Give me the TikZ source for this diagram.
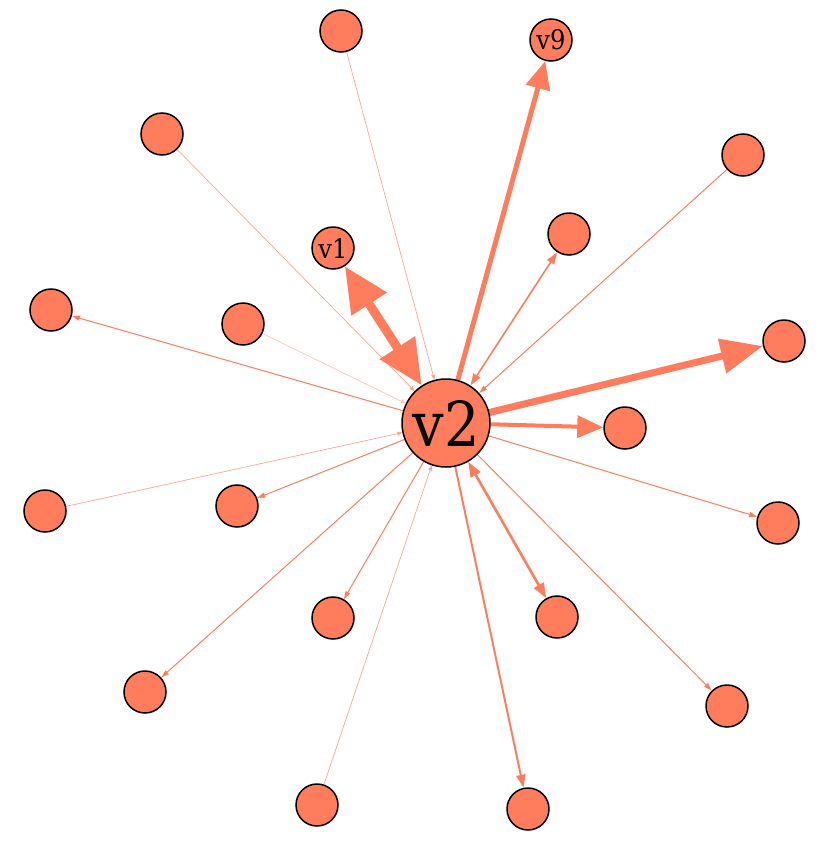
\documentclass[tikz,border=0pt]{standalone}
\usepackage{fontspec}
\usetikzlibrary{arrows.meta}
\newfontfamily\labfont{DejaVu Serif Condensed}
\definecolor{coral}{RGB}{255,125,92}
\pgfdeclarelayer{bg}
\pgfsetlayers{bg,main}
\begin{document}
\begin{tikzpicture}[x=1pt,y=-1pt,
  vtx/.style={circle,draw=black,line width=1.5pt,fill=coral,minimum size=42pt,inner sep=0pt},
  hub/.style={circle,draw=black,line width=1.5pt,fill=coral,minimum size=88pt,inner sep=0pt,font=\labfont\fontsize{62}{62}\selectfont},
  lab/.style={font=\labfont\fontsize{27}{27}\selectfont},
  faint/.style={draw=coral!70,line width=0.7pt,-{Triangle[length=5pt,width=4pt]}},
  thin/.style={draw=coral,line width=1pt,-{Triangle[length=8pt,width=5pt]}},
  med/.style={draw=coral,line width=2pt,{Triangle[length=12pt,width=8pt]}-{Triangle[length=12pt,width=8pt]}},
]
\useasboundingbox (0,0) rectangle (830,849);
\node[hub] (v2) at (446,423) {v2};
\node[vtx] (n1) at (341,31) {};
\node[vtx,lab] (v9) at (551,40) {v9};
\node[vtx] (n3) at (162,134) {};
\node[vtx] (n4) at (743,155) {};
\node[vtx] (n5) at (569,234) {};
\node[vtx,lab] (v1) at (333,248) {v1};
\node[vtx] (n7) at (51,310) {};
\node[vtx] (n8) at (243,324) {};
\node[vtx] (n9) at (784,341) {};
\node[vtx] (n10) at (625,428) {};
\node[vtx] (n11) at (45,511) {};
\node[vtx] (n12) at (237,506) {};
\node[vtx] (n13) at (778,523) {};
\node[vtx] (n14) at (333,618) {};
\node[vtx] (n15) at (557,617) {};
\node[vtx] (n16) at (145,692) {};
\node[vtx] (n17) at (727,706) {};
\node[vtx] (n18) at (317,805) {};
\node[vtx] (n19) at (528,809) {};
\begin{pgfonlayer}{bg}
\draw[faint] (n1) -- (v2);
\draw[faint] (n3) -- (v2);
\draw[faint,draw=coral!45] (n8) -- (v2);
\draw[faint] (n11) -- (v2);
\draw[faint] (n18) -- (v2);
\draw[thin] (v2) -- (n7);
\draw[thin] (n4) -- (v2);
\draw[thin] (v2) -- (n12);
\draw[thin] (v2) -- (n13);
\draw[thin] (v2) -- (n14);
\draw[thin] (v2) -- (n16);
\draw[thin] (v2) -- (n17);
\draw[med,line width=1.6pt] (n5) -- (v2);
\draw[med,line width=2.6pt,{Triangle[length=15pt,width=11pt]}-{Triangle[length=15pt,width=11pt]}] (v2) -- (n15);
\draw[draw=coral,line width=2pt,-{Triangle[length=13pt,width=9pt]}] (v2) -- (n19);
\draw[draw=coral,line width=4pt,-{Triangle[length=26pt,width=22pt]}] (v2) -- (n10);
\draw[draw=coral,line width=5pt,-{Triangle[length=28pt,width=24pt]}] (v2) -- (v9);
\draw[draw=coral,line width=7pt,-{Triangle[length=42pt,width=34pt]}] (v2) -- (n9);
\draw[draw=coral,line width=9pt,{Triangle[length=45pt,width=40pt]}-{Triangle[length=45pt,width=40pt]}] (v2) -- (v1);
\end{pgfonlayer}
\end{tikzpicture}
\end{document}
